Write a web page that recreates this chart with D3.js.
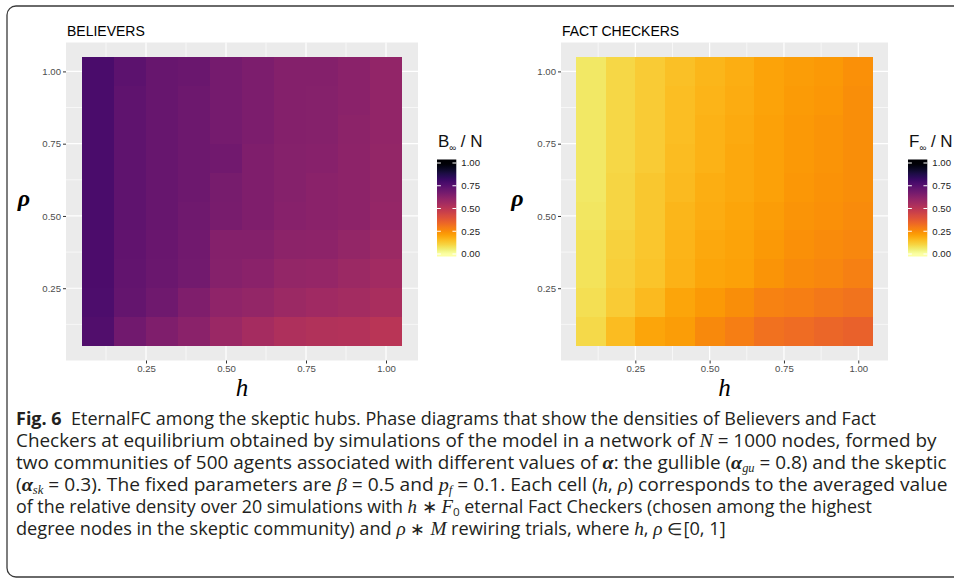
<!DOCTYPE html>
<html><head><meta charset="utf-8">
<script src="https://cdn.jsdelivr.net/npm/d3@7"></script>
<style>body{margin:0;background:#fff} svg{display:block} text{white-space:pre}</style>
</head><body>
<svg id="c" width="954" height="582"></svg>
<script>
// ---------------- DATA ----------------
const hValues   = [0.1,0.2,0.3,0.4,0.5,0.6,0.7,0.8,0.9,1.0];
const rhoValues = [0.1,0.2,0.3,0.4,0.5,0.6,0.7,0.8,0.9,1.0];
const axisTicks = [0.25,0.50,0.75,1.00];
const minorTicks = [0.125,0.375,0.625,0.875];
const legendTicks = [0,0.25,0.5,0.75,1];
const panelTitles = ["BELIEVERS","FACT CHECKERS"];
const legendSymbols = ["B","F"];
// rows ordered rho = 0.1 ... 1.0, columns h = 0.1 ... 1.0
const believers = [
 [0.765,0.685,0.650,0.625,0.585,0.555,0.535,0.525,0.520,0.505],
 [0.770,0.715,0.690,0.650,0.610,0.600,0.580,0.570,0.560,0.545],
 [0.775,0.720,0.700,0.680,0.635,0.625,0.600,0.595,0.580,0.565],
 [0.775,0.725,0.705,0.685,0.640,0.640,0.620,0.615,0.600,0.580],
 [0.780,0.730,0.710,0.690,0.665,0.650,0.630,0.625,0.615,0.595],
 [0.780,0.730,0.710,0.695,0.670,0.650,0.635,0.625,0.615,0.600],
 [0.780,0.730,0.710,0.695,0.685,0.650,0.635,0.630,0.615,0.600],
 [0.780,0.730,0.710,0.695,0.675,0.660,0.640,0.635,0.620,0.605],
 [0.780,0.730,0.710,0.695,0.675,0.660,0.640,0.635,0.625,0.605],
 [0.780,0.735,0.710,0.700,0.675,0.660,0.640,0.640,0.625,0.605]
];
const factCheckers = [
 [0.095,0.155,0.200,0.215,0.260,0.285,0.315,0.325,0.340,0.355],
 [0.085,0.125,0.160,0.200,0.225,0.250,0.275,0.285,0.300,0.310],
 [0.075,0.115,0.140,0.175,0.200,0.210,0.235,0.255,0.265,0.280],
 [0.075,0.110,0.135,0.170,0.195,0.205,0.225,0.245,0.255,0.265],
 [0.070,0.105,0.130,0.165,0.185,0.200,0.215,0.235,0.245,0.255],
 [0.065,0.105,0.130,0.160,0.180,0.195,0.210,0.230,0.240,0.250],
 [0.065,0.100,0.125,0.155,0.175,0.195,0.210,0.225,0.235,0.250],
 [0.065,0.100,0.125,0.150,0.175,0.190,0.210,0.225,0.235,0.250],
 [0.065,0.100,0.125,0.150,0.170,0.185,0.205,0.220,0.230,0.250],
 [0.065,0.100,0.125,0.145,0.165,0.180,0.205,0.215,0.225,0.245]
];
// caption lines: [text, style]
const captionLines = [
 [["Fig. 6","b"],["  EternalFC among the skeptic hubs. Phase diagrams that show the densities of Believers and Fact","n"]],
 [["Checkers at equilibrium obtained by simulations of the model in a network of ","n"],["N","i"],[" = 1000 nodes, formed by","n"]],
 [["two communities of 500 agents associated with different values of ","n"],["α","bi"],[": the gullible (","n"],["α","bi"],["gu","sub"],[" = 0.8) and the skeptic","n"]],
 [["(","n"],["α","bi"],["sk","sub"],[" = 0.3). The fixed parameters are ","n"],["β","i"],[" = 0.5 and ","n"],["p","i"],["f","sub"],[" = 0.1. Each cell (","n"],["h","i"],[", ","n"],["ρ","i"],[") corresponds to the averaged value","n"]],
 [["of the relative density over 20 simulations with ","n"],["h","i"],[" ∗ ","n"],["F","i"],["0","subn"],[" eternal Fact Checkers (chosen among the highest","n"]],
 [["degree nodes in the skeptic community) and ","n"],["ρ","i"],[" ∗ ","n"],["M","i"],[" rewiring trials, where ","n"],["h","i"],[", ","n"],["ρ","i"],[" ∈[0, 1]","n"]]
];
const captionEnds = [876, 937, 947, 948, 873, 727];

// ---------------- DRAW ----------------
const svg = d3.select("#c");
const color = v => d3.interpolateInferno(1 - v);
const sans = "'Liberation Sans', Arial, Helvetica, sans-serif";
const serif = "'Liberation Serif', 'Times New Roman', serif";

svg.append("rect").attr("x",7).attr("y",6).attr("width",970).attr("height",571)
  .attr("rx",9).attr("fill","none").attr("stroke","#3a3a3a").attr("stroke-width",1.3);

const defs = svg.append("defs");

function panel(idx, x0, x1, data, legendX, rhoX){
  const x = d3.scaleLinear([0,1.1],[x0,x1]);
  const y = d3.scaleLinear([0,1.1],[360.5,42.5]);
  const g = svg.append("g");
  g.append("rect").attr("x",x0).attr("y",y(1.1)).attr("width",x1-x0).attr("height",y(0)-y(1.1)).attr("fill","#ebebeb");
  g.selectAll(".mx").data(minorTicks).join("line").attr("x1",d=>x(d)).attr("x2",d=>x(d)).attr("y1",y(0)).attr("y2",y(1.1)).attr("stroke","#fff").attr("stroke-width",0.6);
  g.selectAll(".my").data(minorTicks).join("line").attr("y1",d=>y(d)).attr("y2",d=>y(d)).attr("x1",x0).attr("x2",x1).attr("stroke","#fff").attr("stroke-width",0.6);
  g.selectAll(".Mx").data(axisTicks).join("line").attr("x1",d=>x(d)).attr("x2",d=>x(d)).attr("y1",y(0)).attr("y2",y(1.1)).attr("stroke","#fff").attr("stroke-width",1.2);
  g.selectAll(".My").data(axisTicks).join("line").attr("y1",d=>y(d)).attr("y2",d=>y(d)).attr("x1",x0).attr("x2",x1).attr("stroke","#fff").attr("stroke-width",1.2);
  const cells = [];
  rhoValues.forEach((r,i)=>hValues.forEach((h,j)=>cells.push({h,r,v:data[i][j]})));
  g.append("g").attr("shape-rendering","crispEdges").selectAll("rect").data(cells).join("rect")
    .attr("x",d=>x(d.h-0.05)).attr("y",d=>y(d.r+0.05))
    .attr("width",x(0.1)-x(0)).attr("height",y(0)-y(0.1))
    .attr("fill",d=>color(d.v));
  const fmt = d3.format(".2f");
  const xa = g.append("g").attr("transform",`translate(0,${y(0)})`)
    .call(d3.axisBottom(x).tickValues(axisTicks).tickFormat(fmt).tickSize(3).tickPadding(2));
  const ya = g.append("g").attr("transform",`translate(${x0},0)`)
    .call(d3.axisLeft(y).tickValues(axisTicks).tickFormat(fmt).tickSize(3).tickPadding(2));
  [xa,ya].forEach(a=>{
    a.select(".domain").remove();
    a.selectAll("line").attr("stroke","#333").attr("stroke-width",1);
    a.selectAll("text").attr("fill","#4d4d4d").style("font-family",sans).style("font-size","9.6px");
  });
  g.append("text").attr("x",x0+1).attr("y",35.5).text(panelTitles[idx])
    .style("font-family",sans).style("font-size","14px").attr("fill","#000");
  g.append("text").attr("x",(x0+x1)/2).attr("y",396).attr("text-anchor","middle").text("h")
    .style("font-family",serif).style("font-style","italic").style("font-size","25px");
  g.append("text").attr("x",rhoX).attr("y",206).attr("text-anchor","middle").text("ρ")
    .style("font-family",serif).style("font-style","italic").style("font-weight","bold").style("font-size","24px");
  const lg = svg.append("g");
  const barTop = 159.5, barBot = 256.5, barW = 19.3;
  const ly = d3.scaleLinear([0,1],[254,163]);
  const gid = "grad"+idx;
  const grad = defs.append("linearGradient").attr("id",gid).attr("x1",0).attr("x2",0).attr("y1",0).attr("y2",1);
  d3.range(0,41).forEach(k=>{
    const py = barTop + (barBot-barTop)*k/40;
    const v = Math.max(0,Math.min(1,ly.invert(py)));
    grad.append("stop").attr("offset",(k/40*100)+"%").attr("stop-color",color(v));
  });
  lg.append("rect").attr("x",legendX).attr("y",barTop).attr("width",barW).attr("height",barBot-barTop).attr("fill",`url(#${gid})`);
  lg.selectAll(".tl").data(legendTicks).join("line").attr("x1",legendX).attr("x2",legendX+barW/5)
    .attr("y1",d=>ly(d)).attr("y2",d=>ly(d)).attr("stroke","#fff").attr("stroke-width",1);
  lg.selectAll(".tr").data(legendTicks).join("line").attr("x1",legendX+barW*4/5).attr("x2",legendX+barW)
    .attr("y1",d=>ly(d)).attr("y2",d=>ly(d)).attr("stroke","#fff").attr("stroke-width",1);
  lg.selectAll(".lt").data(legendTicks).join("text").attr("x",legendX+barW+5).attr("y",d=>ly(d)+3.4)
    .text(d=>fmt(d)).style("font-family",sans).style("font-size","9.6px").attr("fill","#222");
  const t = lg.append("text").attr("x",legendX+1).attr("y",146.5).style("font-family",sans).style("font-size","17px").attr("fill","#111");
  t.append("tspan").text(legendSymbols[idx]);
  t.append("tspan").text("∞").attr("dy",4).style("font-size","9.5px");
  t.append("tspan").text(" / N").attr("dy",-4);
}

panel(0, 66, 418, believers, 437, 24);
panel(1, 561, 888, factCheckers, 908, 517.5);

captionLines.forEach((segs,i)=>{
  const base = 425 + i*22;
  const g = svg.append("g");
  const t = g.append("text").attr("x",0).attr("y",0)
    .style("font-family","'Open Sans','Noto Sans',sans-serif")
    .style("font-size","17.5px").attr("fill","#231f20");
  let shifted = false;
  segs.forEach(([s,st])=>{
    const sp = t.append("tspan").text(s);
    if(st==="b"){ sp.style("font-weight","bold"); }
    if(st==="i"){ sp.style("font-family",serif).style("font-style","italic").style("font-size","18.5px"); }
    if(st==="bi"){ sp.style("font-family",serif).style("font-style","italic").style("font-weight","bold").style("font-size","18.5px"); }
    if(st==="sub"||st==="subn"){
      sp.attr("dy",3).style("font-size","11.5px");
      if(st==="sub") sp.style("font-family",serif).style("font-style","italic");
      shifted = true;
    } else if(shifted){ sp.attr("dy",-3); shifted=false; }
  });
  const w = t.node().getComputedTextLength();
  const target = captionEnds[i] - 16;
  g.attr("transform",`translate(16,${base}) scale(${target/w},1)`);
});
</script>
</body></html>
